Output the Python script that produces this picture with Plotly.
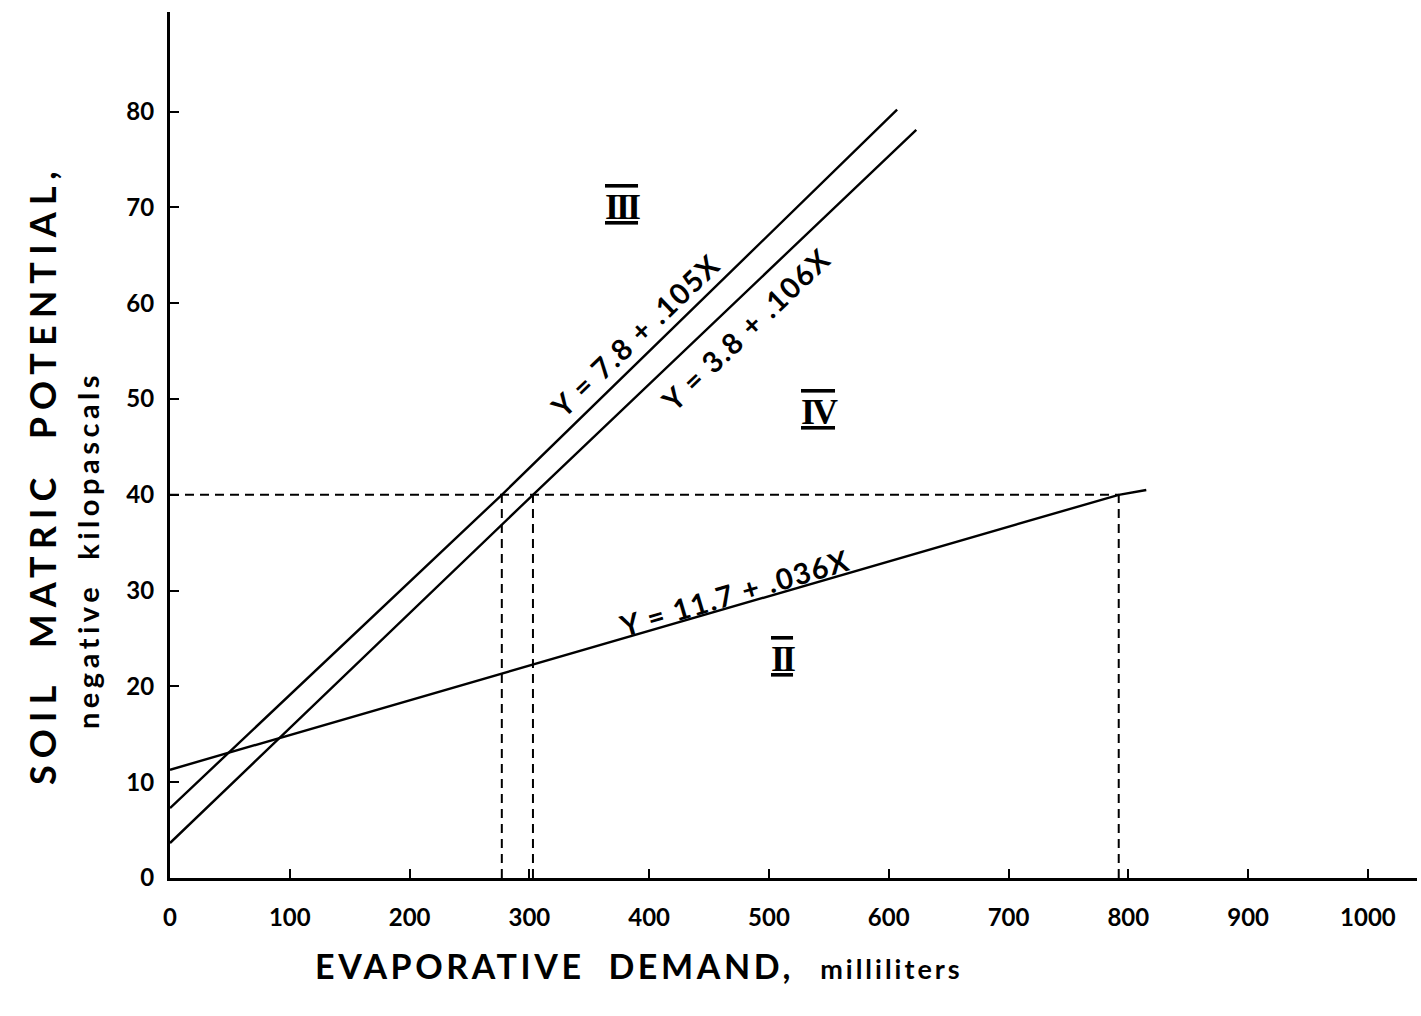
import plotly.graph_objects as go

# Lines as drawn
line1_x = [0, 277, 607]
line1_y = [7.3, 40, 80.2]
line2_x = [0, 303, 623]
line2_y = [3.65, 40, 78.1]
line3_x = [0, 792, 815]
line3_y = [11.3, 40, 40.5]

ref_y = 40
ref_x = [277, 303, 792]

x_ticks = list(range(0, 1001, 100))
y_ticks = list(range(0, 81, 10))

eq_labels = ["Y = 7.8 + .105X", "Y = 3.8 + .106X", "Y = 11.7 + .036X"]
eq_pos = [(388, 56.6), (480, 57.3), (471, 29.8)]
eq_angle = [-43.8, -43.7, -16.5]

region_labels = ["III", "IV", "II"]
region_pos = [(378, 70.0), (542, 48.6), (512, 22.9)]

FONT = "Lato"
fig = go.Figure()

for xs, ys in [(line1_x, line1_y), (line2_x, line2_y), (line3_x, line3_y)]:
    fig.add_trace(go.Scatter(x=xs, y=ys, mode="lines",
                             line=dict(color="black", width=2.4), showlegend=False,
                             hoverinfo="skip"))

# horizontal dashed reference
fig.add_trace(go.Scatter(x=[0, max(ref_x)], y=[ref_y, ref_y], mode="lines",
                         line=dict(color="black", width=2, dash="9px,6px"),
                         showlegend=False, hoverinfo="skip"))
for rx in ref_x:
    fig.add_trace(go.Scatter(x=[rx, rx], y=[0, ref_y], mode="lines",
                             line=dict(color="black", width=2, dash="9px,6px"),
                             showlegend=False, hoverinfo="skip"))

for t, (x, y), a in zip(eq_labels, eq_pos, eq_angle):
    fig.add_annotation(x=x, y=y, text="<span style='letter-spacing:1.5px'>" + t + "</span>",
                       textangle=a, showarrow=False,
                       font=dict(family=FONT, size=29, color="black", weight="bold"))

for t, (x, y) in zip(region_labels, region_pos):
    fig.add_annotation(x=x, y=y,
                       text="<span style='letter-spacing:-3px;text-decoration:underline overline'>" + t + "</span>",
                       showarrow=False,
                       font=dict(family="Liberation Serif", size=36, color="black", weight="bold"))

# axis titles
fig.add_annotation(xref="paper", yref="paper", x=(313 - 170) / 1247, y=-(965 - 878) / 866,
                   xanchor="left", yanchor="middle", showarrow=False,
                   text="<span style='letter-spacing:3.6px'><b>EVAPORATIVE\u00a0\u00a0DEMAND,</b></span>\u00a0\u00a0\u00a0"
                        "<span style='font-size:27px;letter-spacing:3px'><b>milliliters</b></span>",
                   font=dict(family=FONT, size=34, color="black"))
fig.add_annotation(xref="paper", yref="paper", x=-(170 - 42) / 1247, y=(878 - 475) / 866,
                   xanchor="center", yanchor="middle", showarrow=False, textangle=-90,
                   text="<span style='letter-spacing:7px'><b>SOIL\u00a0\u00a0MATRIC\u00a0\u00a0POTENTIAL,</b></span>",
                   font=dict(family=FONT, size=36, color="black"))
fig.add_annotation(xref="paper", yref="paper", x=-(170 - 87) / 1247, y=(878 - 550) / 866,
                   xanchor="center", yanchor="middle", showarrow=False, textangle=-90,
                   text="<span style='letter-spacing:4.5px'><b>negative\u00a0\u00a0kilopascals</b></span>",
                   font=dict(family=FONT, size=29, color="black"))

fig.update_xaxes(range=[0, 1041], tickvals=x_ticks, ticks="inside", ticklen=9,
                 tickwidth=2, tickcolor="black", showline=True, linewidth=3,
                 linecolor="black", showgrid=False, zeroline=False, ticklabelstandoff=16,
                 tickfont=dict(family=FONT, size=24, color="black", weight="bold"))
fig.update_yaxes(range=[0, 90.4], tickvals=y_ticks, ticks="inside", ticklen=9,
                 tickwidth=2, tickcolor="black", showline=True, linewidth=3,
                 linecolor="black", showgrid=False, zeroline=False, ticklabelstandoff=8,
                 tickfont=dict(family=FONT, size=24, color="black", weight="bold"))

fig.update_layout(width=1421, height=1016, margin=dict(l=170, r=4, t=12, b=138),
                  plot_bgcolor="white", paper_bgcolor="white",
                  font=dict(family=FONT, color="black"))

fig.write_html("out.html")
